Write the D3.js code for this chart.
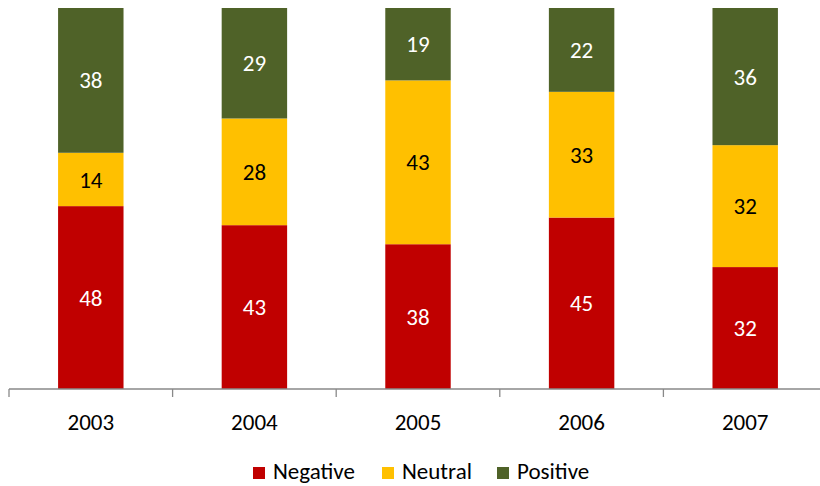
<!DOCTYPE html>
<html><head><meta charset="utf-8">
<script src="https://cdn.jsdelivr.net/npm/d3@7"></script>
<style>body{margin:0;background:#fff}svg{display:block}text{font-family:Carlito,Calibri,"Open Sans",sans-serif}</style>
</head><body><svg id="c" width="820" height="486"></svg>
<script>
const years = ["2003","2004","2005","2006","2007"];
const negative = [48,43,38,45,32];
const neutral = [14,28,43,33,32];
const positive = [38,29,19,22,36];
const seriesNames = ["Negative","Neutral","Positive"];
const colors = ["#C00000","#FFC000","#4F6228"];
const labelColors = ["#fff","#000","#fff"];

const svg = d3.select("#c");
const x0 = 9, step = 163.6;
const x = d3.scaleBand().domain(years).range([x0, x0 + step*years.length]).paddingInner(0.6).paddingOuter(0.3);
const y = d3.scaleLinear().domain([0,100]).range([389, 8]);

const rows = years.map((yr,i)=>({year:yr, Negative:negative[i], Neutral:neutral[i], Positive:positive[i]}));
const stack = d3.stack().keys(seriesNames)(rows);

stack.forEach((s,si)=>{
  const g = svg.append("g");
  g.selectAll("rect").data(s).join("rect")
    .attr("x", d=>x(d.data.year)).attr("width", x.bandwidth())
    .attr("y", d=>y(d[1])).attr("height", d=>y(d[0])-y(d[1]))
    .attr("fill", colors[si]);
  g.selectAll("text").data(s).join("text")
    .attr("x", d=>x(d.data.year)+x.bandwidth()/2)
    .attr("y", d=>(y(d[0])+y(d[1]))/2)
    .attr("dy","0.35em").attr("text-anchor","middle")
    .attr("font-size",23).attr("fill",labelColors[si])
    .text(d=>d.data[seriesNames[si]]);
});

// axis
const ax = svg.append("g").attr("transform","translate(0,389)");
ax.append("line").attr("x1",x0).attr("x2",820).attr("stroke","#898989").attr("stroke-width",1.3);
const tickXs = d3.range(years.length+1).map(i=>x0+i*step);
ax.selectAll("line.t").data(tickXs).join("line").attr("class","t")
  .attr("x1",d=>d).attr("x2",d=>d).attr("y1",0).attr("y2",8).attr("stroke","#898989").attr("stroke-width",1.3);
ax.selectAll("text").data(years).join("text")
  .attr("x",d=>x(d)+x.bandwidth()/2).attr("y",41).attr("text-anchor","middle")
  .attr("font-size",23).attr("fill","#000").text(d=>d);

// legend
const legX = [253,382,497];
const lg = svg.append("g");
seriesNames.forEach((n,i)=>{
  lg.append("rect").attr("x",legX[i]).attr("y",467).attr("width",12).attr("height",12).attr("fill",colors[i]);
  lg.append("text").attr("x",legX[i]+20).attr("y",479).attr("font-size",23).attr("fill","#000").text(n);
});
</script></body></html>
